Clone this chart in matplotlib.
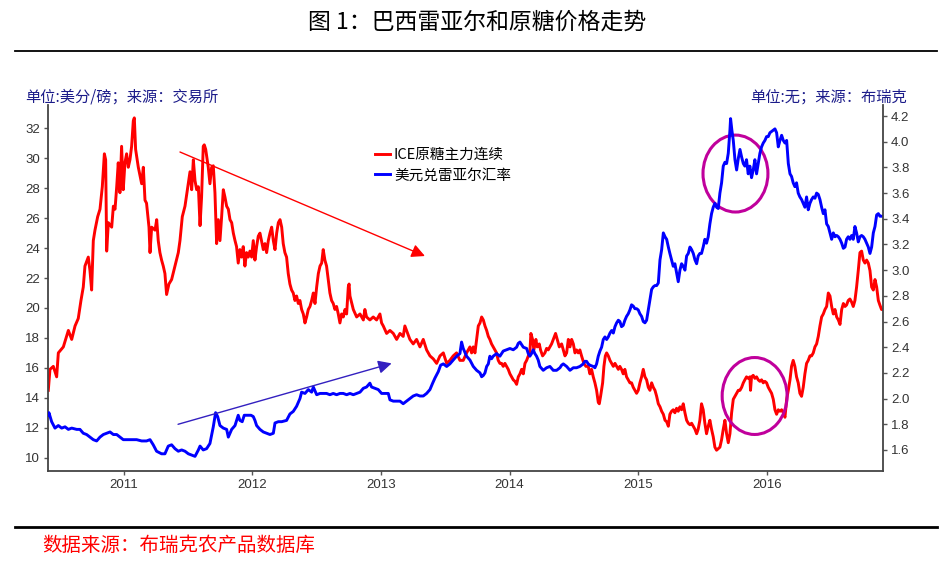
import matplotlib.pyplot as plt
from matplotlib.patches import Ellipse
from matplotlib.lines import Line2D

plt.rcParams['font.family'] = ['Noto Sans CJK SC', 'DejaVu Sans']

# ICE raw sugar, continuous front month (US cents / lb), x in decimal years
sugar_year = [
    2010.413, 2010.426, 2010.452, 2010.478, 2010.491, 2010.530, 2010.569, 2010.595, 2010.621, 2010.646,
    2010.667, 2010.685, 2010.698, 2010.724, 2010.737, 2010.750, 2010.763, 2010.776, 2010.797, 2010.815,
    2010.833, 2010.849, 2010.859, 2010.867, 2010.880, 2010.906, 2010.919, 2010.932, 2010.945, 2010.957,
    2010.970, 2010.983, 2010.996, 2011.009, 2011.022, 2011.035, 2011.048, 2011.061, 2011.074, 2011.082,
    2011.092, 2011.113, 2011.139, 2011.152, 2011.165, 2011.177, 2011.196, 2011.204, 2011.217, 2011.243,
    2011.256, 2011.268, 2011.281, 2011.294, 2011.307, 2011.320, 2011.333, 2011.351, 2011.372, 2011.398,
    2011.424, 2011.437, 2011.455, 2011.476, 2011.502, 2011.515, 2011.528, 2011.541, 2011.554, 2011.567,
    2011.580, 2011.593, 2011.605, 2011.618, 2011.626, 2011.637, 2011.657, 2011.670, 2011.683, 2011.696,
    2011.709, 2011.722, 2011.735, 2011.748, 2011.761, 2011.774, 2011.787, 2011.800, 2011.813, 2011.826,
    2011.839, 2011.852, 2011.865, 2011.877, 2011.890, 2011.903, 2011.916, 2011.929, 2011.942, 2011.955,
    2011.968, 2011.981, 2011.994, 2012.007, 2012.020, 2012.033, 2012.046, 2012.059,
    2012.085, 2012.098, 2012.111, 2012.124, 2012.137, 2012.150, 2012.163, 2012.176, 2012.189, 2012.202,
    2012.215, 2012.228, 2012.240, 2012.253, 2012.266, 2012.279, 2012.292, 2012.305, 2012.318, 2012.331,
    2012.344, 2012.357, 2012.370, 2012.383, 2012.396, 2012.409, 2012.422, 2012.435, 2012.448, 2012.461,
    2012.474, 2012.487, 2012.500, 2012.513, 2012.526, 2012.539, 2012.551, 2012.564, 2012.577, 2012.590,
    2012.603, 2012.616, 2012.629, 2012.642, 2012.655, 2012.668, 2012.681, 2012.694, 2012.707, 2012.720,
    2012.733, 2012.746, 2012.752, 2012.759, 2012.785, 2012.811, 2012.837, 2012.863, 2012.875, 2012.888,
    2012.914, 2012.940, 2012.966, 2012.992, 2013.005, 2013.018, 2013.044, 2013.070, 2013.096, 2013.122,
    2013.148, 2013.173, 2013.186, 2013.199, 2013.225, 2013.251, 2013.277, 2013.303, 2013.329, 2013.355,
    2013.381, 2013.407, 2013.433, 2013.459, 2013.485, 2013.511, 2013.536, 2013.562, 2013.588, 2013.614,
    2013.640,
    2013.666, 2013.692, 2013.705, 2013.718, 2013.731, 2013.744, 2013.757, 2013.770, 2013.783, 2013.796,
    2013.809, 2013.822, 2013.835, 2013.847, 2013.860, 2013.873, 2013.886, 2013.899, 2013.912, 2013.925,
    2013.938, 2013.951, 2013.964, 2013.977, 2013.990, 2014.003, 2014.016, 2014.029, 2014.042, 2014.055,
    2014.068, 2014.081, 2014.094, 2014.107, 2014.120, 2014.133, 2014.146, 2014.158, 2014.166, 2014.179,
    2014.189, 2014.205, 2014.215, 2014.231, 2014.241, 2014.257, 2014.275, 2014.288, 2014.301, 2014.314,
    2014.327, 2014.340, 2014.358, 2014.371, 2014.387, 2014.405, 2014.418, 2014.431, 2014.444, 2014.457,
    2014.470, 2014.483, 2014.496, 2014.509, 2014.521, 2014.534, 2014.547, 2014.560, 2014.578, 2014.594,
    2014.612, 2014.625, 2014.638, 2014.651, 2014.664, 2014.677, 2014.690, 2014.698, 2014.708, 2014.724,
    2014.734, 2014.745, 2014.755, 2014.768, 2014.781, 2014.794, 2014.807, 2014.820, 2014.833, 2014.846,
    2014.858, 2014.871, 2014.884, 2014.897, 2014.910, 2014.923, 2014.936, 2014.949, 2014.962, 2014.975,
    2014.988, 2015.001, 2015.014, 2015.027, 2015.040, 2015.053, 2015.066, 2015.079, 2015.092, 2015.105,
    2015.118, 2015.131, 2015.144, 2015.157, 2015.170, 2015.183, 2015.196, 2015.209, 2015.222, 2015.235,
    2015.247, 2015.260, 2015.273, 2015.286, 2015.299, 2015.312, 2015.325, 2015.338, 2015.351, 2015.364,
    2015.377, 2015.390, 2015.403, 2015.416, 2015.429, 2015.442, 2015.455, 2015.467, 2015.480, 2015.493,
    2015.506, 2015.519, 2015.532, 2015.545, 2015.558, 2015.571, 2015.584, 2015.597, 2015.610, 2015.623,
    2015.636, 2015.649, 2015.662, 2015.675, 2015.688, 2015.701, 2015.714, 2015.727, 2015.740, 2015.753,
    2015.766, 2015.779, 2015.792, 2015.805, 2015.818, 2015.830, 2015.843, 2015.856, 2015.869, 2015.874,
    2015.882, 2015.895, 2015.908, 2015.921, 2015.934, 2015.947, 2015.960, 2015.973, 2015.986, 2015.999,
    2016.012, 2016.025, 2016.038, 2016.051, 2016.064, 2016.077, 2016.090, 2016.103, 2016.116, 2016.129,
    2016.142, 2016.155, 2016.168, 2016.181, 2016.193, 2016.206, 2016.219, 2016.232, 2016.245, 2016.258,
    2016.271, 2016.284, 2016.297, 2016.310, 2016.323, 2016.336, 2016.349, 2016.362, 2016.375, 2016.388,
    2016.401, 2016.414, 2016.427, 2016.440, 2016.453, 2016.466, 2016.479, 2016.492, 2016.505, 2016.518,
    2016.531, 2016.544, 2016.557, 2016.570, 2016.583, 2016.596, 2016.609, 2016.621, 2016.634, 2016.647,
    2016.660, 2016.673, 2016.686, 2016.699, 2016.712, 2016.725, 2016.738, 2016.751, 2016.764, 2016.777,
    2016.790, 2016.803, 2016.816, 2016.829, 2016.842, 2016.855, 2016.868, 2016.880, 2016.893, 2016.901,
]
sugar_price = [
    14.5, 15.9, 16.1, 15.4, 17.0, 17.4, 18.5, 17.9, 18.8, 19.3,
    20.5, 21.4, 22.8, 23.4, 22.5, 21.2, 24.5, 25.2, 26.1, 26.6,
    28.1, 30.3, 29.9, 23.8, 25.7, 25.4, 26.8, 26.6, 28.1, 29.7,
    27.7, 30.8, 27.9, 29.7, 30.3, 29.4, 29.9, 30.8, 32.5, 32.7,
    30.6, 29.4, 28.3, 29.4, 27.2, 27.0, 25.4, 23.7, 25.4, 25.2,
    25.9, 24.5, 23.7, 23.2, 22.8, 22.3, 20.9, 21.6, 21.9, 22.8,
    23.7, 24.5, 26.1, 26.8, 28.3, 29.1, 27.9, 29.9, 28.5, 27.9,
    28.1, 25.5, 27.4, 30.8, 30.9, 30.6, 29.4, 28.3, 29.4, 29.5,
    27.7, 24.3, 25.9, 24.5, 26.1, 27.9, 27.4, 26.8, 26.6, 25.9,
    25.7, 25.0, 24.5, 24.1, 23.0, 23.9, 23.4, 24.1, 22.8, 23.7,
    23.4, 23.8, 23.4, 24.5, 23.2, 24.1, 24.8, 25.0,
    23.9, 24.3, 23.7, 24.5, 25.0, 25.4, 24.5, 23.9, 25.0, 25.7,
    25.9, 25.4, 24.3, 23.7, 23.4, 22.3, 21.6, 21.2, 21.0, 20.5,
    20.8, 20.3, 20.5, 19.9, 19.6, 19.0, 19.4, 19.9, 20.1, 20.5,
    21.0, 20.3, 21.4, 22.3, 22.8, 23.0, 23.9, 23.2, 22.8, 21.9,
    21.0, 20.5, 20.3, 19.9, 20.1, 19.6, 19.0, 19.6, 19.4, 19.9,
    19.6, 21.4, 21.6, 20.8, 19.9, 19.4, 19.6, 19.2, 19.9, 19.4,
    19.2, 19.4, 19.2, 19.6, 19.0, 18.8, 18.3, 18.5, 18.3, 17.9,
    18.3, 18.1, 18.8, 18.5, 17.9, 17.6, 17.9, 17.4, 17.9, 17.2,
    16.8, 16.6, 16.3, 16.8, 17.0, 16.3, 16.5, 16.8, 17.0, 16.5,
    16.5,
    17.0, 17.4, 17.0, 17.4, 17.0, 17.9, 18.8, 19.0, 19.4, 19.2,
    18.8, 18.5, 18.1, 17.9, 17.6, 17.4, 17.2, 17.0, 16.5, 16.3,
    16.3, 16.1, 16.3, 16.1, 15.9, 15.6, 15.4, 15.2, 15.1, 14.9,
    15.4, 15.6, 15.9, 15.6, 16.3, 16.5, 16.8, 17.0, 18.3, 17.9,
    17.2, 17.9, 17.4, 17.6, 17.2, 16.8, 17.0, 17.3, 17.2, 17.4,
    17.6, 17.9, 18.3, 17.9, 17.4, 17.6, 17.2, 16.8, 17.0, 17.9,
    17.4, 17.9, 17.6, 17.0, 17.2, 17.0, 17.2, 16.8, 16.3, 16.1,
    16.1, 15.6, 15.9, 15.4, 15.0, 14.5, 13.7, 13.6, 14.1, 15.0,
    16.1, 16.8, 17.0, 16.8, 16.5, 16.3, 16.1, 16.3, 16.1, 15.9,
    16.1, 15.9, 15.6, 15.9, 15.4, 15.2, 15.0, 15.0, 14.7, 14.5,
    14.3, 14.5, 15.0, 15.4, 15.9, 15.4, 15.2, 14.7, 14.5, 15.0,
    14.7, 14.5, 14.1, 13.6, 13.4, 13.1, 12.9, 12.5, 12.4, 12.1,
    12.9, 13.1, 13.2, 13.0, 13.3, 13.1, 13.4, 13.2, 13.6, 13.0,
    12.5, 12.3, 12.2, 12.3, 12.1, 11.9, 11.6, 11.9, 12.5, 13.6,
    13.2, 12.3, 11.6, 12.1, 12.5, 11.9, 11.4, 10.7, 10.5, 10.6,
    10.7, 11.2, 11.9, 12.5, 11.6, 11.0, 11.6, 13.0, 13.9, 14.1,
    14.3, 14.5, 14.5, 14.7, 15.0, 15.2, 15.4, 15.3, 15.4, 14.5,
    15.4, 15.5, 15.3, 15.4, 15.2, 15.1, 15.2, 15.0, 15.1, 15.0,
    14.7, 14.5, 14.3, 13.9, 13.2, 12.9, 13.2, 13.1, 13.2, 13.0,
    12.7, 13.9, 14.5, 15.2, 16.1, 16.5, 16.1, 15.4, 15.0, 14.3,
    14.1, 14.7, 15.6, 16.3, 16.5, 16.8, 16.8, 17.0, 17.4, 17.6,
    18.1, 18.8, 19.4, 19.6, 19.9, 20.1, 21.0, 20.8, 20.1, 19.6,
    19.9, 19.4, 19.2, 18.9, 19.9, 20.3, 20.1, 20.2, 20.5, 20.6,
    20.4, 20.1, 20.5, 21.4, 22.5, 23.7, 23.8, 23.2, 23.0, 23.2,
    23.0, 22.5, 21.4, 21.2, 21.9, 21.4, 20.5, 20.2, 19.9, 19.9,
]

# USD/BRL exchange rate
brl_year = [
    2010.413, 2010.418, 2010.439, 2010.465, 2010.491, 2010.517, 2010.543, 2010.569, 2010.595, 2010.634,
    2010.659, 2010.685, 2010.711, 2010.737, 2010.763, 2010.789, 2010.815, 2010.841, 2010.867, 2010.893,
    2010.919, 2010.945, 2010.970, 2010.996, 2011.022, 2011.061, 2011.100, 2011.139, 2011.177, 2011.204,
    2011.229, 2011.255, 2011.294, 2011.320, 2011.346, 2011.372, 2011.398, 2011.424, 2011.450, 2011.476,
    2011.502, 2011.528, 2011.554, 2011.580, 2011.593, 2011.618, 2011.644, 2011.670, 2011.696, 2011.714,
    2011.730, 2011.748, 2011.774, 2011.800, 2011.813, 2011.839, 2011.865, 2011.890, 2011.903, 2011.921,
    2011.937, 2011.968, 2011.989,
    2012.007, 2012.020, 2012.033, 2012.059, 2012.085, 2012.111, 2012.137, 2012.163, 2012.176, 2012.202,
    2012.228, 2012.266, 2012.292, 2012.318, 2012.344, 2012.370, 2012.383, 2012.409, 2012.435, 2012.461,
    2012.474, 2012.500, 2012.526, 2012.551, 2012.577, 2012.603, 2012.629, 2012.655, 2012.681, 2012.707,
    2012.733, 2012.759, 2012.785, 2012.811, 2012.837, 2012.863, 2012.888, 2012.914, 2012.927, 2012.953,
    2012.979, 2013.005, 2013.031, 2013.057, 2013.070, 2013.096, 2013.122, 2013.148, 2013.173, 2013.199,
    2013.225, 2013.251, 2013.277, 2013.303, 2013.329, 2013.355, 2013.381, 2013.402, 2013.420, 2013.446,
    2013.464, 2013.485, 2013.511, 2013.536, 2013.562, 2013.588, 2013.614, 2013.627, 2013.640,
    2013.666, 2013.692, 2013.718, 2013.744, 2013.770, 2013.783, 2013.796, 2013.809, 2013.822, 2013.835,
    2013.847, 2013.860, 2013.873, 2013.899, 2013.925, 2013.951, 2013.977, 2014.003, 2014.029, 2014.055,
    2014.068, 2014.081, 2014.107, 2014.133, 2014.146, 2014.158, 2014.171, 2014.184, 2014.197, 2014.210,
    2014.223, 2014.236, 2014.262, 2014.288, 2014.314, 2014.340, 2014.366, 2014.392, 2014.405, 2014.418,
    2014.444, 2014.470, 2014.496, 2014.521, 2014.547, 2014.573, 2014.586, 2014.599, 2014.612, 2014.625,
    2014.651, 2014.664, 2014.677, 2014.690, 2014.703, 2014.716, 2014.729, 2014.742, 2014.755, 2014.768,
    2014.781, 2014.794, 2014.807, 2014.820, 2014.833, 2014.846, 2014.858, 2014.871, 2014.884, 2014.897,
    2014.910, 2014.923, 2014.936, 2014.949, 2014.962, 2014.975, 2014.988, 2015.001, 2015.014, 2015.027,
    2015.040, 2015.053, 2015.066, 2015.079, 2015.092, 2015.105, 2015.118, 2015.131, 2015.144, 2015.157,
    2015.170, 2015.183, 2015.196, 2015.209, 2015.222, 2015.235,
    2015.247, 2015.260, 2015.273, 2015.286, 2015.299, 2015.312, 2015.325, 2015.338, 2015.351, 2015.364,
    2015.377, 2015.390, 2015.403, 2015.416, 2015.429, 2015.442, 2015.455, 2015.467, 2015.480, 2015.493,
    2015.506, 2015.519, 2015.532, 2015.545, 2015.558, 2015.571, 2015.584, 2015.597, 2015.610, 2015.623,
    2015.636, 2015.649, 2015.662, 2015.675, 2015.688, 2015.701, 2015.714, 2015.719, 2015.729, 2015.740,
    2015.753, 2015.766, 2015.779, 2015.792, 2015.805, 2015.818, 2015.830, 2015.843, 2015.856, 2015.869,
    2015.882, 2015.895, 2015.908, 2015.921, 2015.934, 2015.947, 2015.960, 2015.973, 2015.986, 2015.999,
    2016.012, 2016.025, 2016.038, 2016.051, 2016.064, 2016.077, 2016.090, 2016.103, 2016.116, 2016.129,
    2016.142, 2016.155, 2016.168, 2016.181, 2016.193, 2016.206, 2016.219, 2016.232, 2016.245, 2016.258,
    2016.271, 2016.284, 2016.297, 2016.310, 2016.323, 2016.336, 2016.349, 2016.362, 2016.375, 2016.388,
    2016.401, 2016.414, 2016.427, 2016.440, 2016.453, 2016.466, 2016.479, 2016.492, 2016.505, 2016.518,
    2016.531, 2016.544, 2016.557, 2016.570, 2016.583, 2016.596, 2016.609, 2016.621, 2016.634, 2016.647,
    2016.660, 2016.673, 2016.686, 2016.699, 2016.712, 2016.725, 2016.738, 2016.751, 2016.764, 2016.777,
    2016.790, 2016.803, 2016.816, 2016.829, 2016.842, 2016.855, 2016.868, 2016.880, 2016.893,
]
brl_rate = [
    1.87, 1.89, 1.82, 1.77, 1.79, 1.77, 1.78, 1.76, 1.77, 1.76,
    1.76, 1.73, 1.72, 1.70, 1.68, 1.67, 1.70, 1.72, 1.73, 1.74,
    1.72, 1.72, 1.70, 1.68, 1.68, 1.68, 1.68, 1.67, 1.67, 1.68,
    1.64, 1.59, 1.57, 1.57, 1.63, 1.64, 1.61, 1.59, 1.60, 1.59,
    1.57, 1.56, 1.55, 1.60, 1.63, 1.60, 1.61, 1.65, 1.78, 1.89,
    1.86, 1.79, 1.77, 1.76, 1.70, 1.76, 1.79, 1.87, 1.83, 1.82,
    1.87, 1.87, 1.87,
    1.86, 1.83, 1.79, 1.76, 1.74, 1.73, 1.72, 1.73, 1.81, 1.82,
    1.82, 1.83, 1.88, 1.90, 1.94, 2.00, 2.05, 2.04, 2.07, 2.05,
    2.09, 2.03, 2.04, 2.04, 2.04, 2.03, 2.04, 2.03, 2.04, 2.04,
    2.03, 2.04, 2.03, 2.04, 2.05, 2.08, 2.09, 2.12, 2.09, 2.08,
    2.07, 2.04, 2.04, 2.04, 1.99, 1.98, 1.98, 1.98, 1.96, 1.98,
    2.00, 2.02, 2.03, 2.02, 2.02, 2.04, 2.07, 2.12, 2.16, 2.21,
    2.26, 2.27, 2.25, 2.27, 2.30, 2.33, 2.35, 2.44, 2.39,
    2.33, 2.30, 2.25, 2.22, 2.20, 2.17, 2.18, 2.20, 2.25, 2.27,
    2.33, 2.31, 2.33, 2.35, 2.33, 2.37, 2.38, 2.39, 2.38, 2.40,
    2.43, 2.44, 2.40, 2.39, 2.35, 2.33, 2.35, 2.38, 2.35, 2.33,
    2.30, 2.25, 2.22, 2.24, 2.25, 2.22, 2.22, 2.24, 2.26, 2.27,
    2.25, 2.22, 2.24, 2.24, 2.25, 2.27, 2.29, 2.29, 2.27, 2.26,
    2.25, 2.24, 2.27, 2.33, 2.37, 2.40, 2.46, 2.48, 2.46, 2.48,
    2.51, 2.53, 2.51, 2.56, 2.59, 2.61, 2.60, 2.56, 2.57, 2.61,
    2.64, 2.66, 2.69, 2.73, 2.72, 2.70, 2.70, 2.69, 2.66, 2.64,
    2.60, 2.59, 2.61, 2.69, 2.77, 2.85, 2.87, 2.88, 2.88, 2.90,
    3.08, 3.16, 3.29, 3.26, 3.24, 3.18,
    3.13, 3.08, 3.03, 3.05, 2.98, 2.91, 3.00, 3.05, 3.03, 3.00,
    3.11, 3.13, 3.18, 3.16, 3.13, 3.08, 3.05, 3.11, 3.13, 3.13,
    3.18, 3.24, 3.21, 3.26, 3.36, 3.44, 3.49, 3.52, 3.49, 3.48,
    3.60, 3.68, 3.81, 3.84, 3.83, 3.91, 4.09, 4.18, 4.09, 4.01,
    3.86, 3.78, 3.87, 3.94, 3.88, 3.83, 3.81, 3.86, 3.75, 3.81,
    3.72, 3.78, 3.86, 3.75, 3.83, 3.91, 3.96, 3.99, 4.01, 4.04,
    4.04, 4.07, 4.08, 4.09, 4.10, 4.07, 3.96, 4.01, 4.05, 4.01,
    3.99, 4.01, 3.83, 3.75, 3.73, 3.68, 3.65, 3.68, 3.60, 3.57,
    3.55, 3.52, 3.49, 3.57, 3.47, 3.52, 3.55, 3.57, 3.56, 3.60,
    3.59, 3.55, 3.49, 3.44, 3.47, 3.36, 3.34, 3.29, 3.24, 3.29,
    3.26, 3.27, 3.26, 3.24, 3.21, 3.17, 3.18, 3.24, 3.26, 3.24,
    3.27, 3.24, 3.34, 3.29, 3.22, 3.26, 3.27, 3.26, 3.24, 3.21,
    3.18, 3.13, 3.18, 3.29, 3.34, 3.43, 3.44, 3.42, 3.42,
]

year_ticks = [2011, 2012, 2013, 2014, 2015, 2016]
left_ticks = [10, 12, 14, 16, 18, 20, 22, 24, 26, 28, 30, 32]
right_ticks = [1.6, 1.8, 2.0, 2.2, 2.4, 2.6, 2.8, 3.0, 3.2, 3.4, 3.6, 3.8, 4.0, 4.2]

title = '图 1：巴西雷亚尔和原糖价格走势'
sugar_label = 'ICE原糖主力连续'
brl_label = '美元兑雷亚尔汇率'
left_unit = '单位:美分/磅；来源：交易所'
right_unit = '单位:无；来源：布瑞克'
source = '数据来源：布瑞克农产品数据库'

W, H = 949, 563
fig = plt.figure(figsize=(W / 100, H / 100), dpi=100)
ax = fig.add_axes([48.3 / W, 1 - 471 / H, (882.7 - 48.3) / W, (471 - 105) / H])
ax2 = ax.twinx()

l1, = ax.plot(sugar_year, sugar_price, color='#ff0000', lw=2.1, label=sugar_label)
l2, = ax2.plot(brl_year, brl_rate, color='#0000ff', lw=2.1, label=brl_label)

ax.set_xlim(2010.413, 2016.902)
ax.set_ylim(9.11, 33.56)
ax2.set_ylim(1.436, 4.286)

ax.set_xticks(year_ticks)
ax.set_xticklabels([str(y) for y in year_ticks])
ax.set_yticks(left_ticks)
ax2.set_yticks(right_ticks)
ax2.set_yticklabels(['%.1f' % v for v in right_ticks])

for a in (ax, ax2):
    a.tick_params(direction='out', length=3, width=1, colors='#555555', pad=3)
    for lab in a.get_xticklabels() + a.get_yticklabels():
        lab.set_fontfamily('Liberation Sans')
        lab.set_fontsize(9.5)
        lab.set_color('#333333')
    a.spines['top'].set_visible(False)
ax.spines['right'].set_visible(False)
ax2.spines['left'].set_visible(False)
ax2.spines['bottom'].set_visible(False)
for s in ('left', 'bottom'):
    ax.spines[s].set_color('#444444')
    ax.spines[s].set_linewidth(1.3)
ax2.spines['right'].set_color('#444444')
ax2.spines['right'].set_linewidth(1.3)

# trend arrows
ax2.annotate('', xy=(2013.342, 23.47), xytext=(2011.437, 30.42),
             xycoords=ax.transData, textcoords=ax.transData,
             arrowprops=dict(arrowstyle='-|>', color='#ff0000', lw=1.0,
                             mutation_scale=20, shrinkA=0, shrinkB=0))
ax2.annotate('', xy=(2013.083, 16.30), xytext=(2011.422, 12.23),
             xycoords=ax.transData, textcoords=ax.transData,
             arrowprops=dict(arrowstyle='-|>', color='#3320c0', lw=1.0,
                             mutation_scale=20, shrinkA=0, shrinkB=0))

# highlight circles
for cx, cy in [(2015.757, 28.98), (2015.906, 14.12)]:
    ax2.add_patch(Ellipse((cx, cy), 0.505, 5.14, transform=ax.transData,
                          fill=False, edgecolor='#c0009c', lw=2.2))

fig.legend([l1, l2], [sugar_label, brl_label], loc='upper left',
           bbox_to_anchor=(375 / W, 1 - 148 / H), frameon=False,
           fontsize=10.5, handlelength=1.0, handletextpad=0.3,
           labelspacing=0.45, borderpad=0, borderaxespad=0)

fig.text(477 / W, 1 - 22 / H, title, ha='center', va='center', fontsize=16.5, color='black')
fig.add_artist(Line2D([15 / W, 937 / W], [1 - 51 / H, 1 - 51 / H], color='black', lw=1.3))
fig.text(25 / W, 1 - 97 / H, left_unit, ha='left', va='center', fontsize=11, color='#1c1c8a')
fig.text(907 / W, 1 - 97 / H, right_unit, ha='right', va='center', fontsize=11, color='#1c1c8a')
fig.add_artist(Line2D([15 / W, 937 / W], [1 - 527 / H, 1 - 527 / H], color='black', lw=2.0))
fig.text(42 / W, 1 - 545 / H, source, ha='left', va='center', fontsize=14, color='#ff0000')

fig.savefig('out.png', dpi=100)
